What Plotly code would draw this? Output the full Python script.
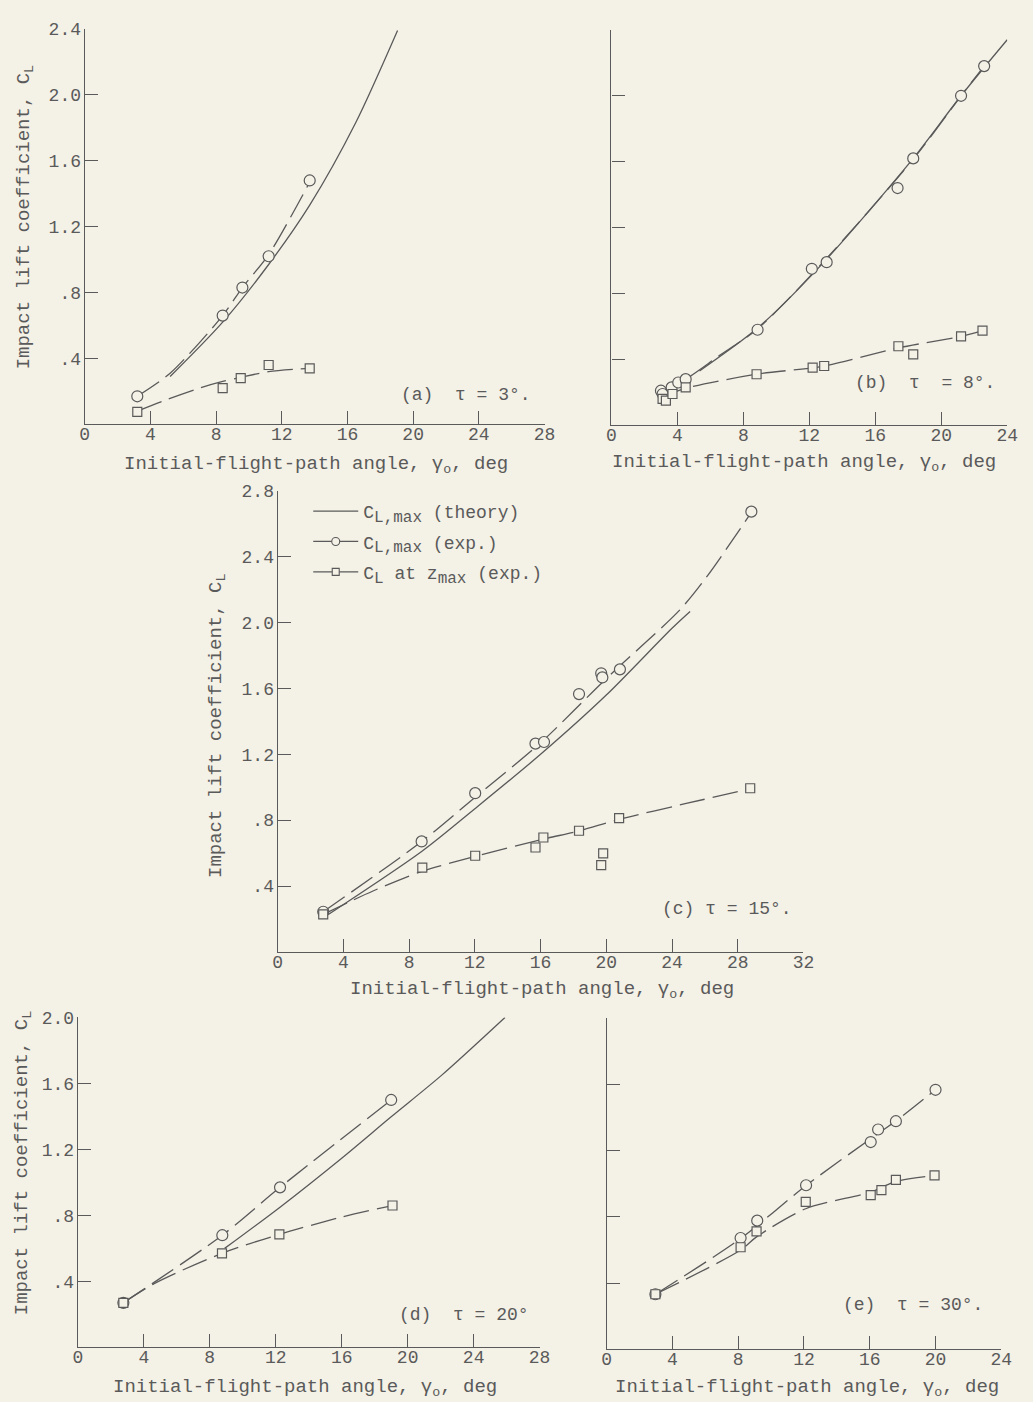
import plotly.graph_objects as go

W, H = 1033, 1402
BG = "#f4f1e6"
INK = "#5a5a5a"
FONT = "Liberation Mono"

# ---------------- data ----------------
# (a) tau = 3 deg
a_circ_x = [3.2, 8.4, 9.6, 11.2, 13.7]
a_circ_y = [0.17, 0.66, 0.83, 1.02, 1.48]
a_sq_x = [3.2, 8.4, 9.5, 11.2, 13.7]
a_sq_y = [0.075, 0.22, 0.28, 0.36, 0.34]
a_theory_x = [5.2, 8.4, 11.2, 13.7, 16.5, 19.05]
a_theory_y = [0.29, 0.62, 0.97, 1.33, 1.83, 2.39]
a_circ_fair_x = [3.2, 5.2, 8.4, 9.6, 11.2, 13.7]
a_circ_fair_y = [0.17, 0.31, 0.66, 0.83, 1.03, 1.47]
a_sq_fair_x = [3.2, 5.0, 7.0, 8.4, 9.5, 11.2, 13.7]
a_sq_fair_y = [0.08, 0.15, 0.22, 0.26, 0.285, 0.32, 0.34]

# (b) tau = 8 deg
b_circ_x = [3.0, 3.1, 3.65, 4.05, 4.5, 8.86, 12.15, 13.05, 17.35, 18.3, 21.2, 22.6]
b_circ_y = [0.21, 0.19, 0.23, 0.26, 0.28, 0.58, 0.95, 0.99, 1.44, 1.62, 2.0, 2.18]
b_sq_x = [3.1, 3.3, 3.7, 4.5, 8.8, 12.2, 12.9, 17.4, 18.3, 21.2, 22.5]
b_sq_y = [0.16, 0.15, 0.19, 0.23, 0.31, 0.35, 0.36, 0.48, 0.43, 0.54, 0.575]
b_theory_x = [5.34, 8.86, 12.6, 18.3, 21.2, 24.0]
b_theory_y = [0.33, 0.59, 0.96, 1.62, 2.0, 2.34]
b_circ_fair_x = [3.0, 4.5, 6.5, 8.86, 12.6, 18.3, 21.2, 22.6]
b_circ_fair_y = [0.2, 0.28, 0.42, 0.585, 0.965, 1.615, 2.0, 2.18]
b_sq_fair_x = [3.0, 4.5, 8.8, 12.9, 17.4, 21.2, 22.5]
b_sq_fair_y = [0.17, 0.225, 0.31, 0.36, 0.47, 0.54, 0.575]

# (c) tau = 15 deg
c_circ_x = [2.77, 8.76, 12.02, 15.69, 16.21, 18.34, 19.69, 19.76, 20.83, 28.83]
c_circ_y = [0.244, 0.671, 0.964, 1.265, 1.275, 1.566, 1.692, 1.667, 1.716, 2.674]
c_sq_x = [2.77, 8.8, 12.02, 15.69, 16.17, 18.34, 19.81, 19.69, 20.78, 28.76]
c_sq_y = [0.228, 0.512, 0.584, 0.634, 0.695, 0.736, 0.598, 0.527, 0.813, 0.994]
c_theory_x = [2.77, 8.76, 12.0, 16.0, 20.0, 24.0, 25.1]
c_theory_y = [0.207, 0.61, 0.87, 1.2, 1.56, 1.966, 2.068]
c_circ_fair_x = [2.77, 8.76, 12.02, 16.0, 20.0, 24.5, 26.2, 28.83]
c_circ_fair_y = [0.244, 0.67, 0.94, 1.27, 1.66, 2.08, 2.29, 2.67]
c_sq_fair_x = [2.77, 5.8, 8.8, 12.02, 16.17, 18.34, 20.78, 24.8, 28.76]
c_sq_fair_y = [0.228, 0.37, 0.49, 0.58, 0.685, 0.735, 0.805, 0.9, 0.99]

# (d) tau = 20 deg
d_circ_x = [2.76, 8.76, 12.26, 19.0]
d_circ_y = [0.27, 0.68, 0.97, 1.50]
d_sq_x = [2.76, 8.74, 12.22, 19.08]
d_sq_y = [0.27, 0.57, 0.685, 0.86]
d_theory_x = [8.9, 12.26, 16.0, 19.0, 22.05, 25.9]
d_theory_y = [0.60, 0.85, 1.147, 1.398, 1.649, 2.0]
d_circ_fair_x = [2.76, 8.76, 12.26, 19.0]
d_circ_fair_y = [0.27, 0.68, 0.97, 1.50]
d_sq_fair_x = [2.76, 4.6, 8.74, 12.22, 16.0, 19.08]
d_sq_fair_y = [0.27, 0.385, 0.57, 0.685, 0.79, 0.86]

# (e) tau = 30 deg
e_circ_x = [2.97, 8.15, 9.16, 12.13, 16.06, 16.51, 17.59, 20.0]
e_circ_y = [0.333, 0.673, 0.778, 0.992, 1.253, 1.329, 1.379, 1.569]
e_sq_x = [2.97, 8.15, 9.12, 12.11, 16.06, 16.71, 17.59, 19.94]
e_sq_y = [0.333, 0.617, 0.713, 0.892, 0.932, 0.962, 1.024, 1.052]
e_circ_fair_x = [2.97, 8.15, 12.13, 16.3, 17.59, 20.0]
e_circ_fair_y = [0.333, 0.67, 0.99, 1.29, 1.38, 1.57]
e_sq_fair_x = [2.97, 8.15, 9.12, 12.11, 16.06, 17.59, 19.94]
e_sq_fair_y = [0.333, 0.6, 0.68, 0.85, 0.95, 1.015, 1.05]

# tick labels
y_tick_vals = [0.4, 0.8, 1.2, 1.6, 2.0, 2.4, 2.8]
y_tick_text = [".4", ".8", "1.2", "1.6", "2.0", "2.4", "2.8"]

panel_labels = ["(a)  \u03c4 = 3\u00b0.", "(b)  \u03c4  = 8\u00b0.", "(c) \u03c4 = 15\u00b0.",
                "(d)  \u03c4 = 20\u00b0", "(e)  \u03c4 = 30\u00b0."]
x_title = "Initial-flight-path angle, \u03b3<sub>o</sub>, deg"
y_title = "Impact lift coefficient, C<sub>L</sub>"
SUBSPAN = "<sub><span style='font-size:16px'>{}</span></sub>"
legend_names = ["C" + SUBSPAN.format("L,max") + " (theory)",
                "C" + SUBSPAN.format("L,max") + " (exp.)",
                "C" + SUBSPAN.format("L") + " at z" + SUBSPAN.format("max") + " (exp.)"]

# ---------------- layout geometry (pixels) ----------------
panels = [
    dict(px=(81, 548), py=(418, 20), xmax=28, ymax=2.4, ylab=True,
         circ=(a_circ_x, a_circ_y), sq=(a_sq_x, a_sq_y), th=(a_theory_x, a_theory_y),
         cf=(a_circ_fair_x, a_circ_fair_y), sf=(a_sq_fair_x, a_sq_fair_y),
         lab=(27.3, 0.18), xt=(316, 459), yt=(20, 210)),
    dict(px=(616, 1018), py=(419, 21), xmax=24, ymax=2.4, ylab=False,
         circ=(b_circ_x, b_circ_y), sq=(b_sq_x, b_sq_y), th=(b_theory_x, b_theory_y),
         cf=(b_circ_fair_x, b_circ_fair_y), sf=(b_sq_fair_x, b_sq_fair_y),
         lab=(23.4, 0.257), xt=(812, 457), yt=None),
    dict(px=(277, 811), py=(949, 485), xmax=32, ymax=2.8, ylab=True,
         circ=(c_circ_x, c_circ_y), sq=(c_sq_x, c_sq_y), th=(c_theory_x, c_theory_y),
         cf=(c_circ_fair_x, c_circ_fair_y), sf=(c_sq_fair_x, c_sq_fair_y),
         lab=(31.4, 0.258), xt=(545, 987), yt=(216, 722)),
    dict(px=(74, 543), py=(1347, 1015), xmax=28, ymax=2.0, ylab=True,
         circ=(d_circ_x, d_circ_y), sq=(d_sq_x, d_sq_y), th=(d_theory_x, d_theory_y),
         cf=(d_circ_fair_x, d_circ_fair_y), sf=(d_sq_fair_x, d_sq_fair_y),
         lab=(27.5, 0.195), xt=(305, 1388), yt=(18, 1162)),
    dict(px=(611, 1012), py=(1349, 1016), xmax=24, ymax=2.0, ylab=False,
         circ=(e_circ_x, e_circ_y), sq=(e_sq_x, e_sq_y), th=None,
         cf=(e_circ_fair_x, e_circ_fair_y), sf=(e_sq_fair_x, e_sq_fair_y),
         lab=(23.0, 0.267), xt=(815, 1388), yt=None),
]

fig = go.Figure()
DASH = "26px,8px"
annotations = []
layout_axes = {}

for i, p in enumerate(panels):
    n = "" if i == 0 else str(i + 1)
    xa, ya = "x" + n, "y" + n
    line_common = dict(color=INK, width=1.3)
    if p["th"] is not None:
        fig.add_trace(go.Scatter(x=p["th"][0], y=p["th"][1], mode="lines", xaxis=xa, yaxis=ya,
                                 line=dict(**line_common, shape="spline", smoothing=0.8),
                                 showlegend=False, hoverinfo="skip"))
    fig.add_trace(go.Scatter(x=p["cf"][0], y=p["cf"][1], mode="lines", xaxis=xa, yaxis=ya,
                             line=dict(**line_common, shape="spline", smoothing=0.8, dash=DASH),
                             showlegend=False, hoverinfo="skip"))
    fig.add_trace(go.Scatter(x=p["sf"][0], y=p["sf"][1], mode="lines", xaxis=xa, yaxis=ya,
                             line=dict(**line_common, shape="spline", smoothing=0.8, dash=DASH),
                             showlegend=False, hoverinfo="skip"))
    fig.add_trace(go.Scatter(x=p["circ"][0], y=p["circ"][1], mode="markers", xaxis=xa, yaxis=ya,
                             marker=dict(symbol="circle", size=11, color=BG,
                                         line=dict(color=INK, width=1.2)), showlegend=False))
    fig.add_trace(go.Scatter(x=p["sq"][0], y=p["sq"][1], mode="markers", xaxis=xa, yaxis=ya,
                             marker=dict(symbol="square", size=9, color=BG,
                                         line=dict(color=INK, width=1.2)), showlegend=False))

    xdom = [p["px"][0] / W, p["px"][1] / W]
    ydom = [1 - p["py"][0] / H, 1 - p["py"][1] / H]
    xt_vals = list(range(0, p["xmax"] + 1, 4))
    yv = [v for v in y_tick_vals if v <= p["ymax"] + 1e-9]
    yt_text = [t for v, t in zip(y_tick_vals, y_tick_text) if v <= p["ymax"] + 1e-9]
    if not p["ylab"]:
        yt_text = [""] * len(yv)
    axis_common = dict(showline=True, linecolor=INK, linewidth=1.3, ticks="inside", ticklen=13,
                       tickwidth=1.2, tickcolor=INK, showgrid=False, zeroline=False,
                       tickfont=dict(family=FONT, size=18, color=INK), fixedrange=True)
    layout_axes["xaxis" + n] = dict(domain=xdom, range=[0, p["xmax"]], anchor=ya,
                                    tickmode="array", tickvals=xt_vals, ticklabelstandoff=-7,
                                    ticktext=[str(v) for v in xt_vals], **axis_common)
    layout_axes["yaxis" + n] = dict(domain=ydom, range=[0, p["ymax"]], anchor=xa,
                                    tickmode="array", tickvals=yv, ticktext=yt_text,
                                    ticklabelstandoff=-1, **axis_common)

    annotations.append(dict(x=p["lab"][0], y=p["lab"][1], xref=xa, yref=ya, text=panel_labels[i],
                            showarrow=False, xanchor="right", yanchor="middle",
                            font=dict(family=FONT, size=18, color=INK)))
    annotations.append(dict(x=p["xt"][0] / W, y=1 - p["xt"][1] / H, xref="paper", yref="paper",
                            text=x_title, showarrow=False, xanchor="center", yanchor="middle",
                            font=dict(family=FONT, size=19, color=INK)))
    if p["yt"] is not None:
        annotations.append(dict(x=p["yt"][0] / W, y=1 - p["yt"][1] / H, xref="paper", yref="paper",
                                text=y_title, showarrow=False, textangle=-90,
                                xanchor="center", yanchor="middle",
                                font=dict(family=FONT, size=19, color=INK)))

# legend entries (key only, in panel c)
fig.add_trace(go.Scatter(x=[None], y=[None], mode="lines", xaxis="x3", yaxis="y3",
                         line=dict(color=INK, width=1.3), name=legend_names[0], legendgroup="g1"))
fig.add_trace(go.Scatter(x=[None], y=[None], mode="lines+markers", xaxis="x3", yaxis="y3",
                         line=dict(color=INK, width=1.3),
                         marker=dict(symbol="circle", size=8, color=BG, line=dict(color=INK, width=1.1)),
                         name=legend_names[1], legendgroup="g2"))
fig.add_trace(go.Scatter(x=[None], y=[None], mode="lines+markers", xaxis="x3", yaxis="y3",
                         line=dict(color=INK, width=1.3),
                         marker=dict(symbol="square", size=7, color=BG, line=dict(color=INK, width=1.1)),
                         name=legend_names[2], legendgroup="g3"))

fig.update_layout(
    width=W, height=H, margin=dict(l=0, r=0, t=0, b=0),
    paper_bgcolor=BG, plot_bgcolor=BG,
    font=dict(family=FONT, size=17, color=INK),
    showlegend=True,
    legend=dict(x=308 / W, y=1 - 487 / H, xanchor="left", yanchor="top",
                bgcolor="rgba(0,0,0,0)", borderwidth=0, tracegroupgap=4, itemwidth=45,
                font=dict(family=FONT, size=18, color=INK)),
    annotations=annotations,
    **layout_axes,
)

fig.write_html("out.html")
